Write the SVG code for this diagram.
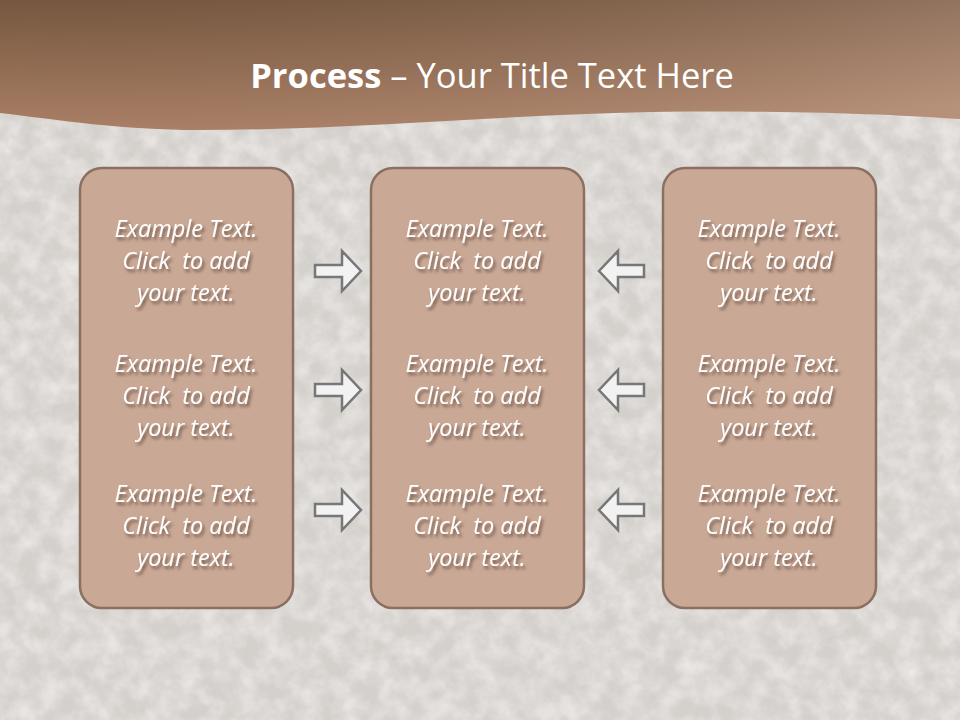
<svg xmlns="http://www.w3.org/2000/svg" width="960" height="720" viewBox="0 0 960 720">
<defs>
<linearGradient id="hdr" x1="0" y1="0" x2="0.25" y2="1">
<stop offset="0" stop-color="#76573f"/>
<stop offset="1" stop-color="#ad8268"/>
</linearGradient>
<linearGradient id="hdr2" x1="0" y1="0" x2="1" y2="0">
<stop offset="0" stop-color="#000" stop-opacity="0"/>
<stop offset="1" stop-color="#fff" stop-opacity="0.12"/>
</linearGradient>
<filter id="stone" x="0" y="0" width="100%" height="100%">
<feTurbulence type="fractalNoise" baseFrequency="0.05" numOctaves="6" seed="7" result="n"/>
<feColorMatrix in="n" type="matrix" values="0 0 0 0 0.95  0 0 0 0 0.94  0 0 0 0 0.93  1.0 0 0 0 -0.3" result="c"/>
<feComposite in="c" in2="SourceGraphic" operator="in"/>
</filter>
<filter id="ts" x="-10%" y="-30%" width="130%" height="170%">
<feGaussianBlur in="SourceAlpha" stdDeviation="1.5"/>
<feOffset dx="2" dy="2.5" result="b"/>
<feFlood flood-color="#5a4030" flood-opacity="0.75"/>
<feComposite in2="b" operator="in" result="s"/>
<feMerge><feMergeNode in="s"/><feMergeNode in="SourceGraphic"/></feMerge>
</filter>
</defs>
<style>
.box{fill:#c9a896;stroke:#8b7061;stroke-width:2.5}
.arr{fill:#f2f2f2;stroke:#777;stroke-width:2.5;stroke-linejoin:miter}
.t{font-family:"Open Sans","Liberation Sans",sans-serif;font-style:italic;font-size:23.5px;fill:#fff;text-anchor:middle}
.title{font-family:"Open Sans","Liberation Sans",sans-serif;font-size:34.5px;fill:#fff;text-anchor:middle}
</style>
<rect width="960" height="720" fill="#d4d0cc"/>
<rect width="960" height="720" fill="#fff" filter="url(#stone)"/>
<g id="header">
<path d="M0,0 H960 V119 C900,115 800,110 650,112 C500,115 350,130 200,130 C120,130 60,120 0,113 Z" fill="url(#hdr)"/>
<path d="M0,0 H960 V119 C900,115 800,110 650,112 C500,115 350,130 200,130 C120,130 60,120 0,113 Z" fill="url(#hdr2)"/>
<text class="title" x="492" y="88"><tspan font-weight="bold">Process</tspan> – Your Title Text Here</text>
</g>
<g id="box-left">
<rect class="box" x="80" y="168" width="213" height="440" rx="22"/>
<g class="t" filter="url(#ts)">
<text x="186" y="237">Example Text.</text><text x="186" y="269">Click&#160; to add</text><text x="186" y="301">your text.</text>
<text x="186" y="372">Example Text.</text><text x="186" y="404">Click&#160; to add</text><text x="186" y="436">your text.</text>
<text x="186" y="502">Example Text.</text><text x="186" y="534">Click&#160; to add</text><text x="186" y="566">your text.</text>
</g>
</g>
<g id="box-center">
<rect class="box" x="371" y="168" width="213" height="440" rx="22"/>
<g class="t" filter="url(#ts)">
<text x="477" y="237">Example Text.</text><text x="477" y="269">Click&#160; to add</text><text x="477" y="301">your text.</text>
<text x="477" y="372">Example Text.</text><text x="477" y="404">Click&#160; to add</text><text x="477" y="436">your text.</text>
<text x="477" y="502">Example Text.</text><text x="477" y="534">Click&#160; to add</text><text x="477" y="566">your text.</text>
</g>
</g>
<g id="box-right">
<rect class="box" x="663" y="168" width="213" height="440" rx="22"/>
<g class="t" filter="url(#ts)">
<text x="769" y="237">Example Text.</text><text x="769" y="269">Click&#160; to add</text><text x="769" y="301">your text.</text>
<text x="769" y="372">Example Text.</text><text x="769" y="404">Click&#160; to add</text><text x="769" y="436">your text.</text>
<text x="769" y="502">Example Text.</text><text x="769" y="534">Click&#160; to add</text><text x="769" y="566">your text.</text>
</g>
</g>
<g id="connectors">
<path class="arr" d="M315,265 H342 V251 L361,271 L342,291 V277 H315 Z"/>
<path class="arr" d="M315,384 H342 V370 L361,390 L342,410 V396 H315 Z"/>
<path class="arr" d="M315,504 H342 V490 L361,510 L342,530 V516 H315 Z"/>
<path class="arr" d="M644,265 H618 V251 L599,271 L618,291 V277 H644 Z"/>
<path class="arr" d="M644,384 H618 V370 L599,390 L618,410 V396 H644 Z"/>
<path class="arr" d="M644,504 H618 V490 L599,510 L618,530 V516 H644 Z"/>
</g>
</svg>
